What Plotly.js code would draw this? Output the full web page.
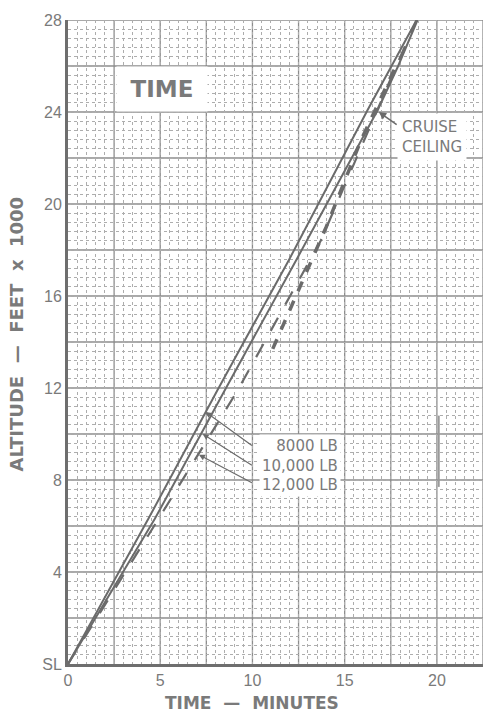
<!DOCTYPE html>
<html>
<head>
<meta charset="utf-8">
<script src="https://cdn.plot.ly/plotly-3.0.1.min.js"></script>
<style>html,body{margin:0;padding:0;background:#fff;}#chart{width:490px;height:719px;}</style>
</head>
<body>
<div id="chart"></div>
<script>
// Time to climb (minutes) vs altitude (feet x 1000)
const t8000 = [0, 4.35, 8.1, 12.0, 16.25, 18.9];
const a8000 = [0, 6.3, 11.9, 17.6, 24.1, 28];
const t10000 = [0, 4.7, 8.5, 12.4, 16.8, 17.9, 18.95];
const a10000 = [0, 6.3, 11.9, 17.6, 24.1, 26, 28];
const t12000 = [0, 4.9, 9.2, 13.15, 13.7, 17.8, 18.9];
const a12000 = [0, 6.3, 11.9, 17.6, 18.4, 26, 28];
const tCruise = [11.1, 12.6, 14.0, 15.9, 16.8, 17.9];
const aCruise = [13.7, 16.4, 19.0, 22.8, 24.3, 26.2];
const tMark = [20.1, 20.1];
const aMark = [7.7, 10.8];

const xTickVals = [0, 5, 10, 15, 20];
const xTickText = ['0', '5', '10', '15', '20'];
const yTickVals = [0, 4, 8, 12, 16, 20, 24, 28];
const yTickText = ['SL', '4', '8', '12', '16', '20', '24', '28'];
const majorX = [2.5, 5, 7.5, 10, 12.5, 15, 17.5, 20, 22.5];
const majorY = [2, 4, 6, 8, 10, 12, 14, 16, 18, 20, 22, 24, 26, 28];

const weightLabels = ['8000 LB', '10,000 LB', '12,000 LB'];
const weightTipT = [7.45, 7.3, 7.1];
const weightTipA = [10.96, 10.0, 9.1];
const weightTailT = [10.05, 10.05, 10.05];
const weightTailA = [9.45, 8.6, 7.85];

const lineColor = '#6b6b6b';
const textColor = '#7a7a7a';
const gridMajor = '#8c8c8c';

const traces = [
  {x: t8000, y: a8000, mode: 'lines', line: {color: lineColor, width: 2}, hoverinfo: 'skip'},
  {x: t10000, y: a10000, mode: 'lines', line: {color: lineColor, width: 2}, hoverinfo: 'skip'},
  {x: t12000, y: a12000, mode: 'lines', line: {color: lineColor, width: 2.2, dash: 'longdash'}, hoverinfo: 'skip'},
  {x: tCruise, y: aCruise, mode: 'lines', line: {color: lineColor, width: 3.5, dash: 'dash'}, hoverinfo: 'skip'},
  {x: tMark, y: aMark, mode: 'lines', line: {color: '#9a9a9a', width: 2}, hoverinfo: 'skip'}
];

const annotations = [
  {x: 5.1, y: 25.0, xref: 'x', yref: 'y', text: '<b>TIME</b>', showarrow: false,
   font: {family: 'DejaVu Sans', size: 23, color: textColor},
   bgcolor: '#ffffff', width: 90, height: 44, borderpad: 0},
  {x: 16.85, y: 24.0, xref: 'x', yref: 'y', text: '', showarrow: true,
   ax: 17.9, ay: 23.4, axref: 'x', ayref: 'y', arrowhead: 2, arrowsize: 1, arrowwidth: 1.5, arrowcolor: lineColor},
  {x: 17.85, y: 22.9, xref: 'x', yref: 'y', text: 'CRUISE<br>CEILING', showarrow: false,
   xanchor: 'left', yanchor: 'middle', align: 'left', font: {family: 'DejaVu Sans', size: 15, color: textColor},
   bgcolor: '#ffffff', borderpad: 4},
  {x: 0.443, y: -0.042, xref: 'paper', yref: 'paper', text: '<b>TIME  —  MINUTES</b>', showarrow: false,
   xanchor: 'center', yanchor: 'top', font: {family: 'DejaVu Sans', size: 17, color: textColor}},
  {x: -0.125, y: 0.512, xref: 'paper', yref: 'paper', text: '<b>ALTITUDE  —  FEET  x  1000</b>', showarrow: false,
   textangle: -90, xanchor: 'center', yanchor: 'middle', font: {family: 'DejaVu Sans', size: 18, color: textColor}}
];

for (let i = 0; i < weightLabels.length; i++) {
  annotations.push({x: weightTipT[i], y: weightTipA[i], xref: 'x', yref: 'y', text: '', showarrow: true,
    ax: weightTailT[i], ay: weightTailA[i], axref: 'x', ayref: 'y',
    arrowhead: 2, arrowsize: 1, arrowwidth: 1.2, arrowcolor: lineColor});
}
annotations.push({x: 14.8, y: 8.65, xref: 'x', yref: 'y',
  text: weightLabels.join('<br>'), showarrow: false, xanchor: 'right', yanchor: 'middle', align: 'right',
  font: {family: 'DejaVu Sans', size: 15, color: textColor}, bgcolor: '#ffffff', borderpad: 2});

const shapes = [];
majorY.forEach(v => shapes.push({type: 'line', xref: 'paper', yref: 'y', x0: 0, x1: 1, y0: v, y1: v, line: {color: gridMajor, width: 1.3}, layer: 'below'}));
majorX.forEach(v => shapes.push({type: 'line', xref: 'x', yref: 'paper', x0: v, x1: v, y0: 0, y1: 1, line: {color: gridMajor, width: 1.3}, layer: 'below'}));

const layout = {
  width: 490, height: 719,
  margin: {l: 68, r: 7, t: 20, b: 55},
  paper_bgcolor: '#ffffff', plot_bgcolor: '#ffffff',
  showlegend: false,
  xaxis: {
    range: [0, 22.5], fixedrange: true,
    tickvals: xTickVals, ticktext: xTickText, ticks: '',
    tickfont: {family: 'Liberation Sans', size: 16, color: textColor},
    showgrid: false, zeroline: false,
    showline: true, linecolor: '#6e6e6e', linewidth: 3,
    minor: {dtick: 0.5, showgrid: true, gridcolor: '#adadad', gridwidth: 1, griddash: 'dot'}
  },
  yaxis: {
    range: [0, 28], fixedrange: true,
    tickvals: yTickVals, ticktext: yTickText, ticks: '',
    tickfont: {family: 'Liberation Sans', size: 16, color: textColor},
    showgrid: false, zeroline: false,
    showline: true, linecolor: '#6e6e6e', linewidth: 3,
    minor: {dtick: 0.4, showgrid: true, gridcolor: '#adadad', gridwidth: 1, griddash: 'dot'}
  },
  annotations: annotations,
  shapes: shapes
};

Plotly.newPlot('chart', traces, layout, {staticPlot: true});
</script>
</body>
</html>
